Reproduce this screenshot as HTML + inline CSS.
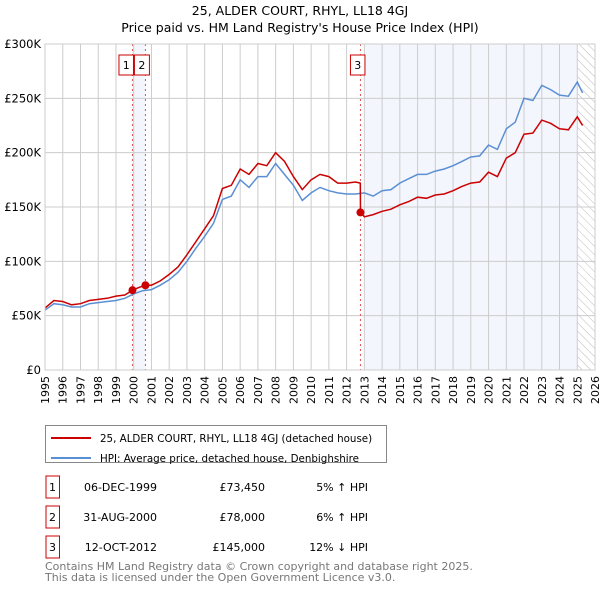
<!DOCTYPE html>
<html><head><meta charset="utf-8"><style>
body{margin:0;background:#fff;font-family:"Liberation Sans","DejaVu Sans",sans-serif;}
svg text{font-family:"DejaVu Sans","Liberation Sans",sans-serif;}
</style></head><body>
<svg id="c" width="600" height="590" xmlns="http://www.w3.org/2000/svg">
<defs><pattern id="hatch" width="6" height="6" patternUnits="userSpaceOnUse" patternTransform="rotate(-45)"><line x1="0" y1="0" x2="0" y2="6" stroke="#bbb" stroke-width="1"/></pattern></defs>
<text x="300" y="15" text-anchor="middle" font-size="12.5">25, ALDER COURT, RHYL, LL18 4GJ</text>
<text x="300" y="32" text-anchor="middle" font-size="12.5">Price paid vs. HM Land Registry's House Price Index (HPI)</text>
<g id="plot"></g>
<g>
<rect x="45.5" y="425.5" width="341" height="37" fill="#fff" stroke="#888"/>
<line x1="51" y1="438" x2="91" y2="438" stroke="#cc0000" stroke-width="2"/>
<text x="100" y="442" font-size="10.3">25, ALDER COURT, RHYL, LL18 4GJ (detached house)</text>
<line x1="51" y1="458" x2="91" y2="458" stroke="#5b8fd4" stroke-width="2"/>
<text x="100" y="462" font-size="10.3">HPI: Average price, detached house, Denbighshire</text>
</g>
<g font-size="11">
<rect x="46" y="476" width="13.5" height="22" fill="none" stroke="#cc0000"/><text x="52.5" y="491" text-anchor="middle">1</text>
<text x="157" y="491" text-anchor="end">06-DEC-1999</text><text x="265" y="491" text-anchor="end">£73,450</text><text x="368" y="491" text-anchor="end">5% ↑ HPI</text>
<rect x="46" y="506" width="13.5" height="22" fill="none" stroke="#cc0000"/><text x="52.5" y="521" text-anchor="middle">2</text>
<text x="157" y="521" text-anchor="end">31-AUG-2000</text><text x="265" y="521" text-anchor="end">£78,000</text><text x="368" y="521" text-anchor="end">6% ↑ HPI</text>
<rect x="46" y="536" width="13.5" height="22" fill="none" stroke="#cc0000"/><text x="52.5" y="551" text-anchor="middle">3</text>
<text x="157" y="551" text-anchor="end">12-OCT-2012</text><text x="265" y="551" text-anchor="end">£145,000</text><text x="368" y="551" text-anchor="end">12% ↓ HPI</text>
</g>
<text x="45" y="570" font-size="11" fill="#777">Contains HM Land Registry data © Crown copyright and database right 2025.</text>
<text x="45" y="581" font-size="11" fill="#777">This data is licensed under the Open Government Licence v3.0.</text>
</svg>
<script>
const hpiYears=[1995,1995.5,1996,1996.5,1997,1997.5,1998,1998.5,1999,1999.5,2000,2000.5,2001,2001.5,2002,2002.5,2003,2003.5,2004,2004.5,2005,2005.5,2006,2006.5,2007,2007.5,2008,2008.5,2009,2009.5,2010,2010.5,2011,2011.5,2012,2012.5,2013,2013.5,2014,2014.5,2015,2015.5,2016,2016.5,2017,2017.5,2018,2018.5,2019,2019.5,2020,2020.5,2021,2021.5,2022,2022.5,2023,2023.5,2024,2024.5,2025,2025.3];
const hpiValues=[55,61,60,58,58,61,62,63,64,66,70,73,74,78,83,90,100,112,123,135,157,160,175,168,178,178,190,180,170,156,163,168,165,163,162,162,163,160,165,166,172,176,180,180,183,185,188,192,196,197,207,203,222,228,250,248,262,258,253,252,265,255];
const redYears=[1995,1995.5,1996,1996.5,1997,1997.5,1998,1998.5,1999,1999.5,1999.93,2000.3,2000.66,2001,2001.5,2002,2002.5,2003,2003.5,2004,2004.5,2005,2005.5,2006,2006.5,2007,2007.5,2008,2008.5,2009,2009.5,2010,2010.5,2011,2011.5,2012,2012.5,2012.77,2012.78,2013,2013.5,2014,2014.5,2015,2015.5,2016,2016.5,2017,2017.5,2018,2018.5,2019,2019.5,2020,2020.5,2021,2021.5,2022,2022.5,2023,2023.5,2024,2024.5,2025,2025.3];
const redValues=[57,64,63,60,61,64,65,66,68,69,73.45,76,78,78,82,88,95,106,118,130,142,167,170,185,180,190,188,200,192,178,166,175,180,178,172,172,173,172,145,141,143,146,148,152,155,159,158,161,162,165,169,172,173,182,178,195,200,217,218,230,227,222,221,233,225];
const saleYears=[1999.93,2000.66,2012.78];
const saleValues=[73.45,78,145];
const saleLabels=["1","2","3"];
const yTicks=[0,50,100,150,200,250,300];
const yTickLabels=["£0","£50K","£100K","£150K","£200K","£250K","£300K"];
const xTicks=[1995,1996,1997,1998,1999,2000,2001,2002,2003,2004,2005,2006,2007,2008,2009,2010,2011,2012,2013,2014,2015,2016,2017,2018,2019,2020,2021,2022,2023,2024,2025,2026];

const L=45,R=595,T=44,B=370;
const x=v=>L+(v-1995)/(2026-1995)*(R-L);
const y=v=>B-v/300*(B-T);
const NS="http://www.w3.org/2000/svg";
const g=document.getElementById('plot');
function mk(t,a,p){const e=document.createElementNS(NS,t);for(const k in a)e.setAttribute(k,a[k]);(p||g).appendChild(e);return e;}
let e;
e=mk('rect',{x:L,y:T,width:R-L,height:B-T,fill:'#fff'});


e=mk('rect',{x:x(saleYears[0]),y:T,width:x(saleYears[1])-x(saleYears[0]),height:B-T,fill:'#f3f6fd'});


e=mk('rect',{x:x(2013),y:T,width:x(2025)-x(2013),height:B-T,fill:'#f3f6fd'});


e=mk('rect',{x:x(2025),y:T,width:R-x(2025),height:B-T,fill:'url(#hatch)'});


xTicks.forEach(t=>{e=mk('line',{x1:x(t),x2:x(t),y1:T,y2:B,stroke:'#ccc','stroke-width':1});


e=mk('text',{x:0,y:0,'font-size':11,transform:`translate(${x(t)+4},${B+6}) rotate(-90)`,'text-anchor':'end'});e.textContent=t;

});
yTicks.forEach((t,i)=>{e=mk('line',{x1:L,x2:R,y1:y(t),y2:y(t),stroke:'#ccc','stroke-width':1});


e=mk('text',{x:L-4,y:y(t)+4,'font-size':11.5,'text-anchor':'end'});e.textContent=yTickLabels[i];

});
saleYears.forEach((s,i)=>{e=mk('line',{x1:x(s),x2:x(s),y1:T,y2:B,stroke:'#e05050','stroke-width':1,'stroke-dasharray':'2,3'});

});
const path=(xs,vs)=>xs.map((v,i)=>(i?'L':'M')+x(v).toFixed(1)+','+y(vs[i]).toFixed(1)).join('');
e=mk('path',{d:path(hpiYears,hpiValues),fill:'none',stroke:'#5b8fd4','stroke-width':1.5});


e=mk('path',{d:path(redYears,redValues),fill:'none',stroke:'#cc0000','stroke-width':1.5});


saleYears.forEach((s,i)=>{e=mk('circle',{cx:x(s),cy:y(saleValues[i]),r:4,fill:'#cc0000'});


const w=i===1?15:14.5, bx=i===0?x(s)-w+1:(i===1?x(s)-11:x(s)-10);
e=mk('rect',{x:bx,y:55,width:w,height:20,fill:'#fff',stroke:'#cc0000'});


e=mk('text',{x:bx+w/2,y:69,'font-size':11,'text-anchor':'middle'});e.textContent=saleLabels[i];

});
e=mk('rect',{x:L,y:T,width:R-L,height:B-T,fill:'none',stroke:'#ccc'});


</script>
</body></html>
